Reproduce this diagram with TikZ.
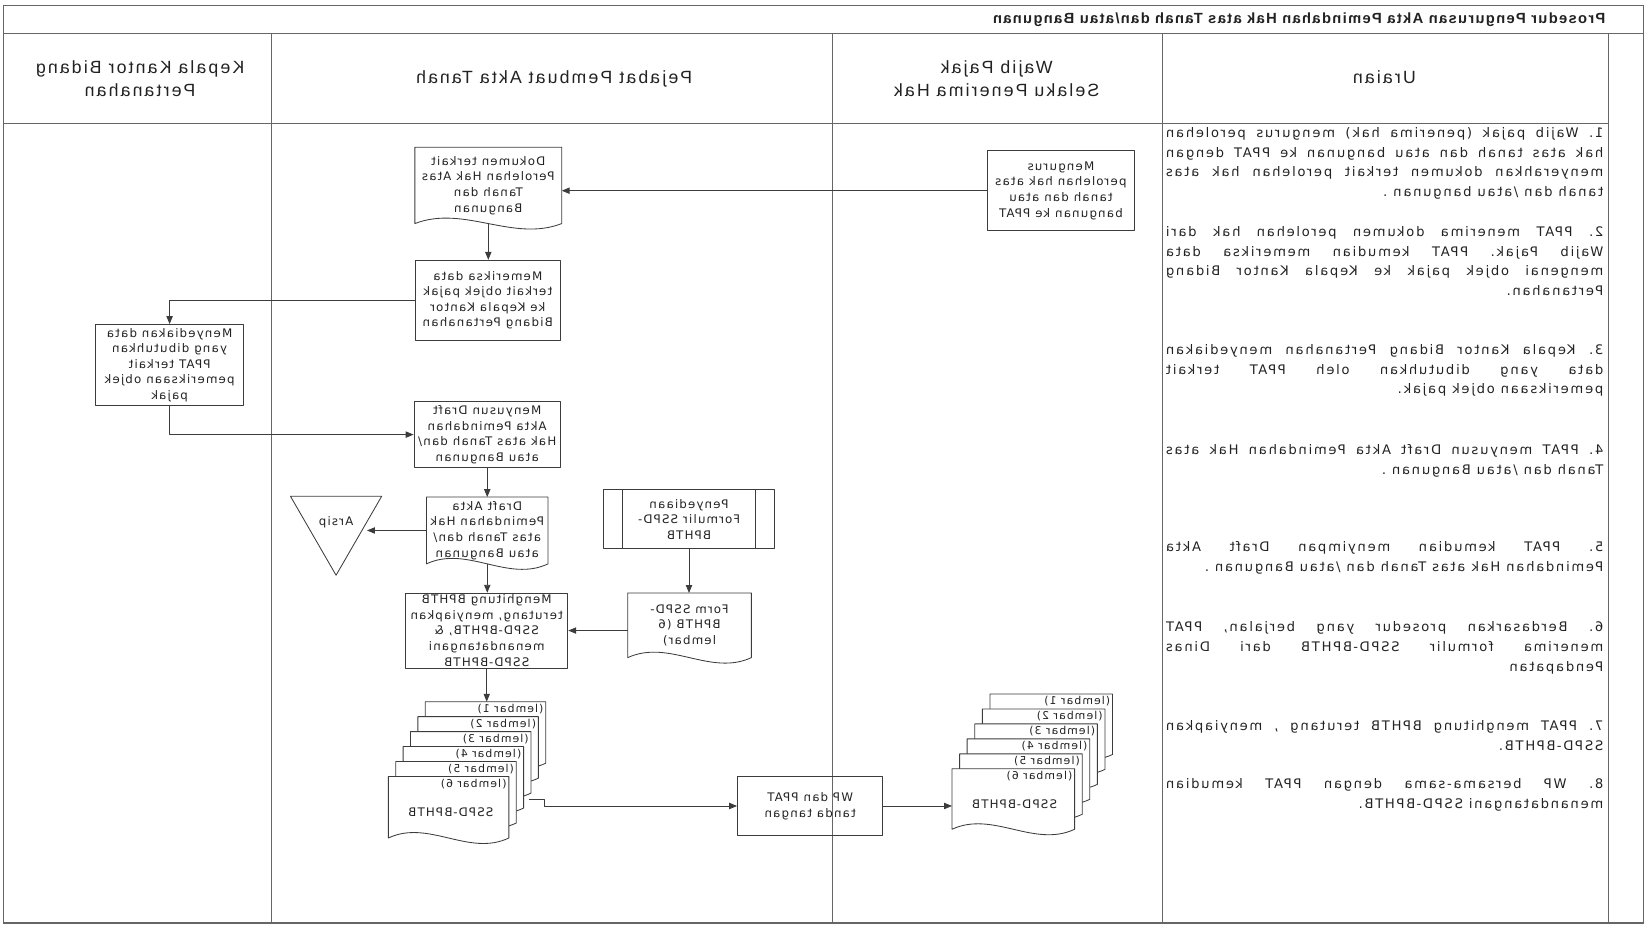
\documentclass[tikz,border=0pt]{standalone}
\usepackage{fontspec}
\usepackage{tikz}
\usetikzlibrary{calc,arrows.meta,shapes.geometric}
\newfontfamily\boxfont[LetterSpace=10]{DejaVu Sans}
\newfontfamily\urfont[LetterSpace=13]{DejaVu Sans}
\newfontfamily\headfont[LetterSpace=12]{Liberation Sans}
\newfontfamily\titlefont[LetterSpace=9]{Liberation Sans}
\definecolor{ink}{HTML}{3C3C3C}
\definecolor{rule}{HTML}{666666}
\definecolor{txt}{HTML}{222222}
\tikzset{
  tab/.style={draw=rule, line width=1.1pt},
  base/.style={draw=ink, line width=0.8pt, line join=round},
  flow/.style={base, -{Triangle[length=7.5pt,width=6pt]}},
  lab/.style={text=txt, inner sep=1pt, align=center, font=\boxfont\fontsize{11.2}{14.8}\selectfont},
  box/.style={base, lab, rectangle},
  doc/.style={lab, rectangle},
  sheet/.style={rectangle, inner sep=0pt, anchor=north west, minimum height=58},
  lemb/.style={lab, anchor=west, inner sep=0pt, font=\boxfont\fontsize{10.3}{12}\selectfont},
  head/.style={text=txt, align=center, inner sep=0pt, font=\headfont\fontsize{16.8}{22}\selectfont},
  urai/.style={text=txt, anchor=north west, inner sep=0pt, font=\urfont\fontsize{12.5}{18.6}\selectfont},
  arsipbox/.style={base, lab, regular polygon, regular polygon sides=3, shape border rotate=180,
    minimum size=100, inner sep=0pt}
}
% document outline with a wavy bottom edge
\newcommand{\docbox}[2][]{%
  \draw[base,#1] (#2.south west) -- (#2.north west) -- (#2.north east) -- (#2.south east)
    .. controls ($(#2.south east)!0.333!(#2.south west)+(0,18)$)
    and ($(#2.south west)!0.333!(#2.south east)+(0,-18)$) .. (#2.south west) -- cycle;}
% justified paragraph of the Uraian column
\newcommand{\uraipar}[1]{\parbox[t]{415pt}{\frenchspacing\hyphenpenalty=10000\exhyphenpenalty=10000\tolerance=10000\relax #1}}

\begin{document}
\begin{tikzpicture}[xscale=-1, x=1pt, y=1pt, every node/.append style={transform shape}]
  \useasboundingbox (0,0) rectangle (1568,-885);

  % table
  \draw[tab] (8,-5) rectangle (1565,-876);
  \draw[tab] (8,-32) -- (1565,-32);
  \draw[tab] (41,-117) -- (1565,-117);
  \foreach \u in {41,465,778,1310}
    \draw[tab] (\u,-32) -- (\u,-876);

  \node[text=txt, anchor=west, inner sep=0pt, font=\titlefont\bfseries\fontsize{14}{15}\selectfont] (judul) at (44,-19)
    {Prosedur Pengurusan Akta Pemindahan Hak atas Tanah dan/atau Bangunan};
  \node[head] (hkepala) at (1435,-75) {Kepala Kantor Bidang\\Pertanahan};
  \node[head] (hppat) at (1042,-75) {Pejabat Pembuat Akta Tanah};
  \node[head] (hwp) at (622,-75) {Wajib Pajak\\Selaku Penerima Hak};
  \node[head] (hurai) at (254,-73) {Uraian};

  % flow
  \node[box, minimum width=140, minimum height=76] (mengurus) at (561,-181)
    {Mengurus\\perolehan hak atas\\tanah dan atau\\bangunan ke PPAT};
  \node[doc, minimum width=139, minimum height=72] (dokumen) at (1104.5,-176)
    {Dokumen terkait\\Perolehan Hak Atas\\Tanah dan\\Bangunan};
  \docbox{dokumen}
  \node[box, minimum width=138, minimum height=76] (periksa) at (1105,-285)
    {Memeriksa data\\terkait objek pajak\\ke Kepala Kantor\\Bidang Pertanahan};
  \node[box, minimum width=140, minimum height=77] (sedia) at (1407,-346.5)
    {Menyediakan data\\yang dibutuhkan\\PPAT terkait\\pemeriksaan objek\\pajak};
  \node[box, minimum width=139, minimum height=63] (susun) at (1105.5,-412.5)
    {Menyusun Draft\\Akta Pemindahan\\Hak atas Tanah dan/\\atau Bangunan};
  \node[doc, minimum width=115, minimum height=63] (draft) at (1105.5,-503.5)
    {Draft Akta\\Pemindahan Hak\\atas Tanah dan/\\atau Bangunan};
  \docbox{draft}
  \node[arsipbox] (arsip) at (1249,-496) {Arsip};
  \node[box, minimum width=154, minimum height=71] (hitung) at (1106,-598.5)
    {Menghitung BPHTB\\terutang, menyiapkan\\SSPD-BPHTB, \&\\menandatangani\\SSPD-BPHTB};
  \node[box, minimum width=162, minimum height=56] (formulir) at (914,-493)
    {Penyediaan\\Formulir SSPD-\\BPHTB};
  \draw[base] ($(formulir.north west)+(18,0)$) -- ($(formulir.south west)+(18,0)$);
  \draw[base] ($(formulir.north east)+(-18,0)$) -- ($(formulir.south east)+(-18,0)$);
  \node[doc, minimum width=117, minimum height=61] (form) at (913.5,-593.5)
    {Form SSPD-\\BPHTB (6\\lembar)};
  \docbox{form}
  \node[box, minimum width=138, minimum height=56] (wp) at (799,-765)
    {WP dan PPAT\\tanda tangan};

  % stacks of SSPD-BPHTB sheets
  \foreach \i in {1,...,6}{
    \node[sheet, minimum width=114] (l\i) at ({1050+7*(\i-1)},{-666-14.2*(\i-1)}) {};
    \docbox[fill=white]{l\i}
    \node[lemb] (ll\i) at ($(l\i.north west)+(2,-7)$) {(lembar \i)};
    \node[sheet, minimum width=116, minimum height=57] (r\i) at ({512+7.2*(\i-1)},{-658.7-14.2*(\i-1)}) {};
    \docbox[fill=white]{r\i}
    \node[lemb] (rl\i) at ($(r\i.north west)+(2,-7)$) {(lembar \i)};
  }
  \node[lab] (ltxt) at (1140,-771) {SSPD-BPHTB};
  \node[lab] (rtxt) at (605,-763) {SSPD-BPHTB};
  \coordinate (lout) at (1066,-759);

  \draw[flow] (mengurus.east) -- (mengurus.east -| dokumen.west);
  \draw[flow] (dokumen.south) -- (dokumen.south |- periksa.north);
  \draw[flow] (periksa.east) -| (sedia.north);
  \draw[flow] (sedia.south) |- (susun.east);
  \draw[flow] (susun.south) -- (susun.south |- draft.north);
  \draw[flow] (draft.east) -- (draft.east -| arsip.west);
  \draw[flow] (draft.south) -- (draft.south |- hitung.north);
  \draw[flow] (formulir.south) -- (formulir.south |- form.north);
  \draw[flow] (form.east |- hitung.west) -- (hitung.west);
  \draw[flow] (hitung.south) -- (hitung.south |- l1.north);
  \draw[flow] (lout) -- ++(-15,0) |- (wp.east);
  \draw[flow] (wp.west) -- (wp.west -| r6.east);

  % uraian
  \node[urai] (u1) at (46,-121) {\uraipar{1. Wajib pajak (penerima hak) mengurus perolehan\linebreak
    hak atas tanah dan atau bangunan ke PPAT dengan\linebreak
    menyerahkan dokumen terkait perolehan hak atas\linebreak
    tanah dan /atau bangunan .}};
  \node[urai] (u2) at (46,-215) {\uraipar{2. PPAT menerima dokumen perolehan hak dari\linebreak
    Wajib Pajak. PPAT kemudian memeriksa data\linebreak
    mengenai objek pajak ke Kepala Kantor Bidang\linebreak
    Pertanahan.}};
  \node[urai] (u3) at (46,-327) {\uraipar{3. Kepala Kantor Bidang Pertanahan menyediakan\linebreak
    data yang dibutuhkan oleh PPAT terkait\linebreak
    pemeriksaan objek pajak.}};
  \node[urai] (u4) at (46,-422) {\uraipar{4. PPAT menyusun Draft Akta Pemindahan Hak atas\linebreak
    Tanah dan /atau Bangunan .}};
  \node[urai] (u5) at (46,-514) {\uraipar{5. PPAT kemudian menyimpan Draft Akta\linebreak
    Pemindahan Hak atas Tanah dan /atau Bangunan .}};
  \node[urai] (u6) at (46,-590) {\uraipar{6. Berdasarkan prosedur yang berjalan, PPAT\linebreak
    menerima formulir SSPD-BPHTB dari Dinas\linebreak
    Pendapatan}};
  \node[urai] (u7) at (46,-684) {\uraipar{7. PPAT menghitung BPHTB terutang , menyiapkan\linebreak
    SSPD-BPHTB.}};
  \node[urai] (u8) at (46,-739) {\uraipar{8. WP bersama-sama dengan PPAT kemudian\linebreak
    menandatangani SSPD-BPHTB.}};
\end{tikzpicture}
\end{document}
